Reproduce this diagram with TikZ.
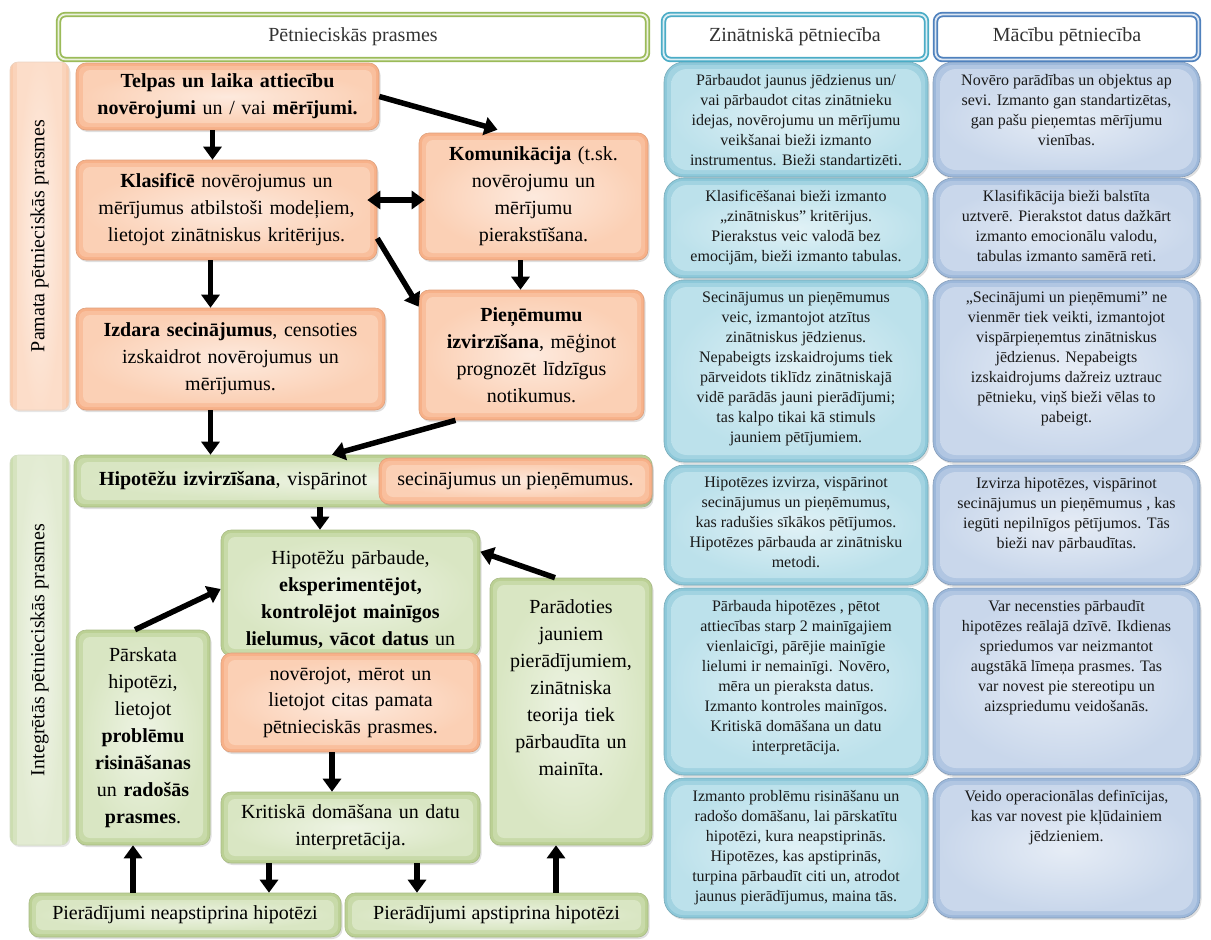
\documentclass[tikz,border=0pt]{standalone}
\usepackage{fontspec}
\setmainfont{Liberation Serif}
\usepackage{xcolor}
\usetikzlibrary{arrows.meta, shadows}

\definecolor{peachm}{HTML}{FBD0B5}
\definecolor{peache}{HTML}{F7B189}
\definecolor{greenm}{HTML}{D9E6C3}
\definecolor{greene}{HTML}{BBD094}
\definecolor{zinm}{HTML}{BCE1EB}
\definecolor{zine}{HTML}{8DC8D9}
\definecolor{macm}{HTML}{C9D7EB}
\definecolor{mace}{HTML}{9DB8DA}
\definecolor{pbarm}{HTML}{FCDDC9}
\definecolor{pbare}{HTML}{F9CBAD}
\definecolor{gbarm}{HTML}{E2EBD2}
\definecolor{gbare}{HTML}{CCDDB0}
\definecolor{hdrgreen}{HTML}{9BBB59}
\definecolor{hdrcyan}{HTML}{4BACC6}
\definecolor{hdrblue}{HTML}{4F81BD}

\newcommand{\boxfont}{\fontsize{20}{27}\selectfont}
\newcommand{\cellfont}{\fontsize{16}{20}\selectfont}
\newcommand{\celltext}[3]{\parbox[c][#1pt][t]{#2pt}{\centering #3}}

\begin{document}
\begin{tikzpicture}[x=1pt,y=-1pt,
  bevel/.style n args={3}{fill=#2, path picture={
    \fill[#1!45!#2, rounded corners=#3] ([shift={(3pt,-3pt)}]path picture bounding box.north west) rectangle ([shift={(-3pt,3pt)}]path picture bounding box.south east);
    \shade[inner color=#1!45!white, outer color=#1, rounded corners=#3] ([shift={(7pt,-7pt)}]path picture bounding box.north west) rectangle ([shift={(-7pt,7pt)}]path picture bounding box.south east);}},
  lbox/.style={rounded corners=10pt, align=center, inner sep=4pt, font=\boxfont, line width=0.6pt,
    drop shadow={shadow xshift=1.5pt, shadow yshift=-2pt, opacity=0.25}},
  pbox/.style={lbox, bevel={peachm}{peache}{7pt}, draw=peache!90!black},
  gbox/.style={lbox, bevel={greenm}{greene}{7pt}, draw=greene!90!black},
  sidebar/.style={rounded corners=8pt, inner sep=0pt, font=\boxfont, rotate=90, minimum height=59pt, line width=0.6pt,
    drop shadow={shadow xshift=1.5pt, shadow yshift=-2pt, opacity=0.2}},
  hdr/.style={draw=#1, double=#1!20, double distance=1.8pt, line width=1.8pt, rounded corners=7pt, fill=white, font=\boxfont, text=black!80, minimum height=45pt},
  cellbox/.style={rounded corners=20pt, inner xsep=4pt, inner ysep=12pt, font=\cellfont, line width=0.6pt, text=black!90,
    drop shadow={shadow xshift=1.5pt, shadow yshift=-2pt, opacity=0.25}},
  zcell/.style={cellbox, bevel={zinm}{zine}{16pt}, draw=zine!85!black},
  mcell/.style={cellbox, bevel={macm}{mace}{16pt}, draw=mace!85!black},
  arr/.style={line width=5.5pt, -{Triangle[length=13pt,width=18pt]}},
  arrboth/.style={line width=5.5pt, {Triangle[length=13pt,width=18pt]}-{Triangle[length=13pt,width=18pt]}}]

\useasboundingbox (0,0) rectangle (1211,940);

% right columns
\node[zcell] (zin1) at (796,119.5) {\celltext{91}{256}{Pārbaudot jaunus jēdzienus un/\\ vai pārbaudot citas zinātnieku\\ idejas, novērojumu un mērījumu\\ veikšanai bieži izmanto\\ instrumentus. Bieži standartizēti.}};
\node[mcell] (mac1) at (1066.5,119.5) {\celltext{91}{259}{Novēro parādības un objektus ap\\ sevi. Izmanto gan standartizētas,\\ gan pašu pieņemtas mērījumu\\ vienības.}};
\node[zcell] (zin2) at (796,228) {\celltext{76}{256}{Klasificēšanai bieži izmanto\\ „zinātniskus” kritērijus.\\ Pierakstus veic valodā bez\\ emocijām, bieži izmanto tabulas.}};
\node[mcell] (mac2) at (1066.5,228) {\celltext{76}{259}{Klasifikācija bieži balstīta\\ uztverē. Pierakstot datus dažkārt\\ izmanto emocionālu valodu,\\ tabulas izmanto samērā reti.}};
\node[zcell] (zin3) at (796,371) {\celltext{158}{256}{Secinājumus un pieņēmumus\\ veic, izmantojot atzītus\\ zinātniskus jēdzienus.\\ Nepabeigts izskaidrojums tiek\\ pārveidots tiklīdz zinātniskajā\\ vidē parādās jauni pierādījumi;\\ tas kalpo tikai kā stimuls\\ jauniem pētījumiem.}};
\node[mcell] (mac3) at (1066.5,371) {\celltext{158}{259}{„Secinājumi un pieņēmumi” ne\\ vienmēr tiek veikti, izmantojot\\ vispārpieņemtus zinātniskus\\ jēdzienus. Nepabeigts\\ izskaidrojums dažreiz uztrauc\\ pētnieku, viņš bieži vēlas to\\ pabeigt.}};
\node[zcell] (zin4) at (796,525) {\celltext{96}{256}{Hipotēzes izvirza, vispārinot\\ secinājumus un pieņēmumus,\\ kas radušies sīkākos pētījumos.\\ Hipotēzes pārbauda ar zinātnisku\\ metodi.}};
\node[mcell] (mac4) at (1066.5,525) {\celltext{96}{259}{Izvirza hipotēzes, vispārinot\\ secinājumus un pieņēmumus , kas\\ iegūti nepilnīgos pētījumos. Tās\\ bieži nav pārbaudītas.}};
\node[zcell] (zin5) at (796,681.5) {\celltext{163}{256}{Pārbauda hipotēzes , pētot\\ attiecības starp 2 mainīgajiem\\ vienlaicīgi, pārējie mainīgie\\ lielumi ir nemainīgi. Novēro,\\ mēra un pieraksta datus.\\ Izmanto kontroles mainīgos.\\ Kritiskā domāšana un datu\\ interpretācija.}};
\node[mcell] (mac5) at (1066.5,681.5) {\celltext{163}{259}{Var necensties pārbaudīt\\ hipotēzes reālajā dzīvē. Ikdienas\\ spriedumos var neizmantot\\ augstākā līmeņa prasmes. Tas\\ var novest pie stereotipu un\\ aizspriedumu veidošanās.}};
\node[zcell] (zin6) at (796,848) {\celltext{116}{256}{Izmanto problēmu risināšanu un\\ radošo domāšanu, lai pārskatītu\\ hipotēzi, kura neapstiprinās.\\ Hipotēzes, kas apstiprinās,\\ turpina pārbaudīt citi un, atrodot\\ jaunus pierādījumus, maina tās.}};
\node[mcell] (mac6) at (1066.5,848) {\celltext{116}{259}{Veido operacionālas definīcijas,\\ kas var novest pie kļūdainiem\\ jēdzieniem.}};

% headers
\node[hdr=hdrgreen, minimum width=589pt] (hdrpr) at (353,37) {Pētnieciskās prasmes};
\node[hdr=hdrcyan, minimum width=263pt] (hdrzin) at (795,37) {Zinātniskā pētniecība};
\node[hdr=hdrblue, minimum width=263pt] (hdrmac) at (1067,37) {Mācību pētniecība};

% side bars
\node[sidebar, minimum width=348pt, bevel={pbarm}{pbare}{6pt}, draw=pbare!90!black!60] (pamata) at (39.5,236) {Pamata pētnieciskās prasmes};
\node[sidebar, minimum width=390pt, bevel={gbarm}{gbare}{6pt}, draw=gbare!90!black!60] (integ) at (39.5,650) {Integrētās pētnieciskās prasmes};

% basic skills
\node[pbox, minimum width=303pt, minimum height=67pt, text width=295pt] (telpas) at (227.5,96.5) {\textbf{Telpas un laika attiecību}\\ \textbf{novērojumi} un / vai \textbf{mērījumi.}};
\node[pbox, minimum width=301pt, minimum height=100pt, text width=293pt] (klasifice) at (226.5,210) {\textbf{Klasificē} novērojumus un\\ mērījumus atbilstoši modeļiem,\\ lietojot zinātniskus kritērijus.};
\node[pbox, minimum width=229pt, minimum height=127pt, text width=221pt] (komunikacija) at (533.5,196.5) {\textbf{Komunikācija} (t.sk.\\ novērojumu un\\ mērījumu\\ pierakstīšana.};
\node[pbox, minimum width=309pt, minimum height=102pt, text width=301pt] (izdara) at (230.5,359) {\textbf{Izdara secinājumus}, censoties\\ izskaidrot novērojumus un\\ mērījumus.};
\node[pbox, minimum width=225pt, minimum height=130pt, text width=217pt] (pienemumi) at (531.5,355) {\textbf{Pieņēmumu}\\ \textbf{izvirzīšana}, mēģinot\\ prognozēt līdzīgus\\ notikumus.};

% integrated skills
\node[gbox, minimum width=578pt, minimum height=52pt, text width=528pt, inner xsep=25pt, align=left] (hipizv) at (363,481) {\textbf{Hipotēžu izvirzīšana}, vispārinot};
\node[pbox, minimum width=273pt, minimum height=46pt] (hipizvb) at (515.5,481) {secinājumus un pieņēmumus.};
\node[gbox, minimum width=259pt, minimum height=126pt, text width=251pt] (parbaude) at (350.5,593) {\mbox{}\\[0pt] Hipotēžu pārbaude,\\ \textbf{eksperimentējot,}\\ \textbf{kontrolējot mainīgos}\\ \textbf{lielumus, vācot datus} un};
\node[pbox, minimum width=259pt, minimum height=99pt, text width=251pt] (novero) at (350.5,702.5) {novērojot, mērot un\\ lietojot citas pamata\\ pētnieciskās prasmes.};
\node[gbox, minimum width=134pt, minimum height=215pt, text width=126pt] (parskata) at (143,737.5) {Pārskata\\ hipotēzi,\\ lietojot\\ \textbf{problēmu}\\ \textbf{risināšanas}\\ un \textbf{radošās}\\ \textbf{prasmes}.};
\node[gbox, minimum width=259pt, minimum height=71pt, text width=251pt] (kritiska) at (350.5,827.5) {Kritiskā domāšana un datu\\ interpretācija.};
\node[gbox, minimum width=162pt, minimum height=267pt, text width=154pt] (paradoties) at (571,711.5) {Parādoties\\ jauniem\\ pierādījumiem,\\ zinātniska\\ teorija tiek\\ pārbaudīta un\\ mainīta.\\[21pt]\mbox{}};
\node[gbox, minimum width=312pt, minimum height=44pt] (neapst) at (185,915) {Pierādījumi neapstiprina hipotēzi};
\node[gbox, minimum width=303pt, minimum height=44pt] (apst) at (496.5,915) {Pierādījumi apstiprina hipotēzi};

% arrows
\draw[arr] (telpas.east) -- ([xshift=-36pt,yshift=3pt]komunikacija.north);
\draw[arr] ([xshift=-15pt]telpas.south) -- ([xshift=-14pt]klasifice.north);
\draw[arrboth] ([xshift=-10pt,yshift=10pt]klasifice.east) -- ([xshift=6pt,yshift=-3.5pt]komunikacija.west);
\draw[arr] ([yshift=22pt]klasifice.south east) -- ([yshift=-17pt]pienemumi.north west);
\draw[arr] ([xshift=-16pt]klasifice.south) -- ([xshift=-20pt]izdara.north);
\draw[arr] ([xshift=-13pt]komunikacija.south) -- ([xshift=-11pt]pienemumi.north);
\draw[arr] ([xshift=-20pt]izdara.south) -- ([xshift=-152.5pt]hipizv.north);
\draw[arr] ([xshift=-76pt]pienemumi.south) -- ([xshift=-31pt]hipizv.north);
\draw[arr] ([xshift=-43pt]hipizv.south) -- ([xshift=-30.5pt]parbaude.north);
\draw[arr] ([xshift=-8pt]parskata.north) -- ([yshift=4pt]parbaude.west);
\draw[arr] ([xshift=-16pt]paradoties.north) -- ([yshift=-22pt]parbaude.north east);
\draw[arr] ([xshift=-18.5pt]novero.south) -- ([xshift=-18.5pt]kritiska.north);
\draw[arr] ([xshift=-81.5pt]kritiska.south) -- ([xshift=84pt]neapst.north);
\draw[arr] ([xshift=66.5pt]kritiska.south) -- ([xshift=-79.5pt]apst.north);
\draw[arr] ([xshift=-52pt]neapst.north) -- ([xshift=-10pt]parskata.south);
\draw[arr] ([xshift=59.5pt]apst.north) -- ([xshift=-15pt]paradoties.south);
\end{tikzpicture}
\end{document}
